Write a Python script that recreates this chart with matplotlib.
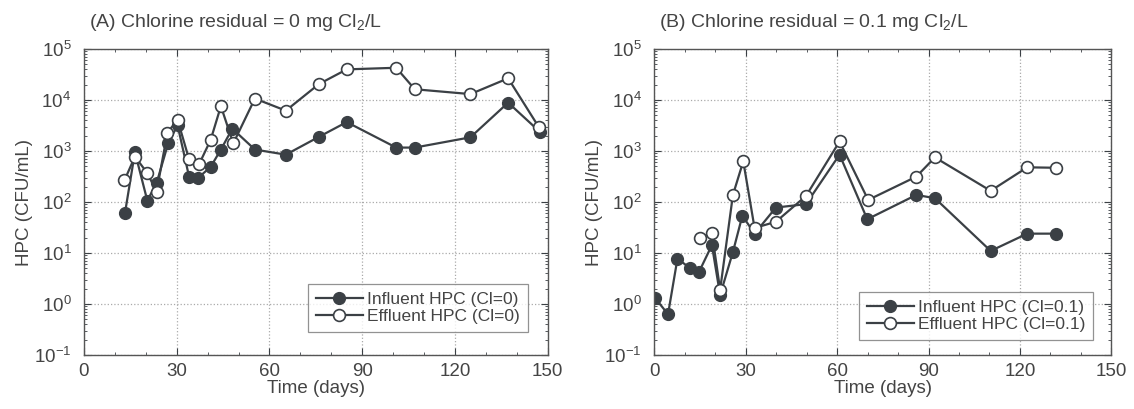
import matplotlib.pyplot as plt
from matplotlib.ticker import LogLocator, MultipleLocator, NullFormatter

# Panel A: chlorine residual = 0 mg/L
a_inf_days = [13.3, 16.5, 20.5, 23.5, 27.3, 30.3, 34, 37, 41, 44.3, 48, 55.3, 65.3, 76, 85,
              101, 107, 125, 137.2, 147.4]
a_inf_hpc = [62, 950, 107, 235, 1450, 3200, 316, 300, 490, 1070, 2750, 1070, 850, 1900, 3700,
             1170, 1170, 1860, 8900, 2400]
a_eff_days = [13.1, 16.5, 20.5, 23.5, 27, 30.3, 34, 37.3, 41, 44.3, 48.3, 55.3, 65.3, 76, 85,
              101, 107, 125, 137.2, 147.2]
a_eff_hpc = [265, 780, 370, 160, 2300, 4100, 690, 560, 1660, 7600, 1410, 10700, 6200, 20600, 40000,
             43000, 16300, 13100, 26700, 2900]

# Panel B: chlorine residual = 0.1 mg/L
b_inf_days = [0.3, 4.5, 7.6, 11.6, 14.7, 18.9, 21.6, 25.8, 28.9, 32.9, 39.9, 49.8, 60.8,
              69.9, 86, 92.1, 110.4, 122.4, 132]
b_inf_hpc = [1.3, 0.63, 7.8, 5.1, 4.3, 14.3, 1.5, 10.5, 54, 24, 78, 91, 850,
             46, 138, 119, 11, 24, 24]
b_eff_days = [15, 18.9, 21.6, 25.8, 29.2, 32.9, 39.9, 49.8, 60.8, 70.2, 86, 92.1, 110.4, 122.4, 132]
b_eff_hpc = [19.5, 25, 1.9, 138, 630, 31, 41, 132, 1540, 110, 315, 750, 166, 480, 470]

y_ticks = [1e-1, 1e0, 1e1, 1e2, 1e3, 1e4, 1e5]
y_ticklabels = ["10$^{-1}$", "10$^{0}$", "10$^{1}$", "10$^{2}$", "10$^{3}$", "10$^{4}$", "10$^{5}$"]
x_ticks = [0, 30, 60, 90, 120, 150]

panels = [
    ("(A) Chlorine residual = 0 mg Cl$_2$/L", a_inf_days, a_inf_hpc, a_eff_days, a_eff_hpc,
     "Cl=0", (0.957, 0.075)),
    ("(B) Chlorine residual = 0.1 mg Cl$_2$/L", b_inf_days, b_inf_hpc, b_eff_days, b_eff_hpc,
     "Cl=0.1", (0.96, 0.05)),
]

ink = "#3b4045"
txt = "#444444"
plt.rcParams['font.family'] = ['Liberation Sans', 'DejaVu Sans']
plt.rcParams['mathtext.fontset'] = 'custom'
plt.rcParams['mathtext.rm'] = 'Liberation Sans'

fig = plt.figure(figsize=(11.34, 4.09), dpi=100)
lefts = [0.074, 0.577]
widths = [0.409, 0.403]

for i, (title, idays, ihpc, edays, ehpc, tag, anchor) in enumerate(panels):
    ax = fig.add_axes([lefts[i], 0.132, widths[i], 0.748])
    ax.plot(idays, ihpc, '-o', color=ink, lw=1.6, ms=8.5, mfc=ink, mec=ink,
            label=f"Influent HPC ({tag})")
    ax.plot(edays, ehpc, '-o', color=ink, lw=1.6, ms=8.5, mfc='white', mec=ink, mew=1.2,
            label=f"Effluent HPC ({tag})")
    ax.set_yscale('log')
    ax.set_xlim(0, 150)
    ax.set_ylim(0.1, 1e5)
    ax.set_xticks(x_ticks)
    ax.xaxis.set_minor_locator(MultipleLocator(10))
    ax.set_yticks(y_ticks)
    ax.set_yticklabels(y_ticklabels)
    ax.yaxis.set_minor_locator(LogLocator(base=10, subs=range(2, 10), numticks=20))
    ax.yaxis.set_minor_formatter(NullFormatter())
    ax.tick_params(which='both', direction='in', top=True, right=True, colors=ink,
                   labelsize=13.5, labelcolor=txt)
    ax.tick_params(which='major', length=5)
    ax.tick_params(which='minor', length=2.5)
    ax.tick_params(axis='x', pad=6)
    ax.tick_params(axis='y', pad=9)
    for s in ax.spines.values():
        s.set_color('#555555')
        s.set_linewidth(1.0)
    ax.grid(True, which='major', linestyle=':', color='#aaaaaa', linewidth=0.9)
    ax.set_xlabel("Time (days)", fontsize=13.5, color=txt, labelpad=0)
    ax.set_ylabel("HPC (CFU/mL)", fontsize=13.5, color=txt, labelpad=1)
    ax.set_title(title, fontsize=14, color=txt, loc='left', x=0.01, pad=16)
    leg = ax.legend(loc='lower right', bbox_to_anchor=anchor, fontsize=12.5, handlelength=2.7,
                    frameon=True, fancybox=False, borderpad=0.45, labelspacing=0.1,
                    handletextpad=0.25, borderaxespad=0)
    leg.get_frame().set_edgecolor('#777777')
    leg.get_frame().set_linewidth(0.9)
    for t in leg.get_texts():
        t.set_color(txt)

fig.savefig("out.png", dpi=100)
